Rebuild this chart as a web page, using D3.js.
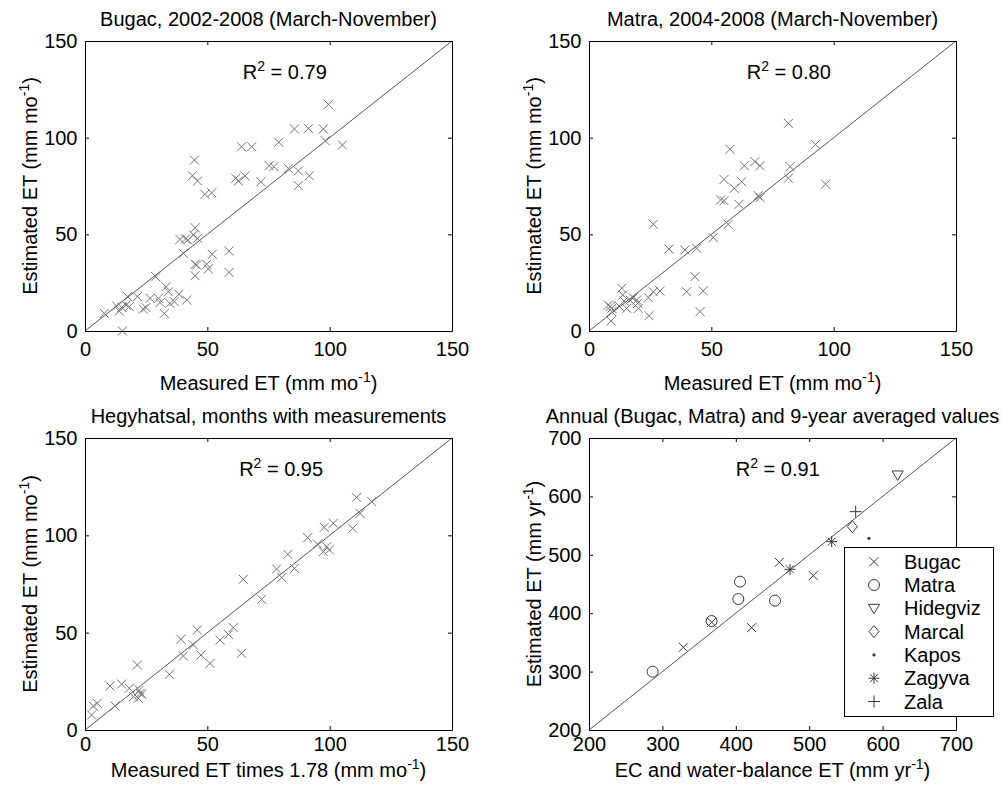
<!DOCTYPE html>
<html>
<head>
<meta charset="utf-8">
<script src="https://cdn.jsdelivr.net/npm/d3@7"></script>
<style>
  body { margin: 0; background: #fff; }
  svg { display: block; }
  text { font-family: "Liberation Sans", Arial, sans-serif; fill: #000; }
</style>
</head>
<body>
<div id="chart"></div>
<script>
// ticks
var monthTicks = [0, 50, 100, 150];
var annualTicks = [200, 300, 400, 500, 600, 700];

// Bugac monthly values [measured, estimated]
var bugacMonthly = [
  [99.5,117.2],[85.6,104.5],[91.3,104.8],[97.4,104.5],[98.2,98.4],[105.2,96.2],
  [79.2,97.6],[64.0,95.3],[68.1,95.3],[44.7,88.4],[43.9,80.3],[46.0,77.6],
  [49.0,70.7],[51.8,71.5],[61.6,79.0],[62.7,77.6],[65.4,80.2],[71.9,77.2],
  [75.3,85.5],[77.2,85.0],[83.1,84.1],[87.2,82.8],[87.2,75.2],[91.7,80.3],
  [45.0,53.4],[44.3,49.7],[46.0,47.9],[38.8,47.4],[42.0,47.1],[41.1,47.6],
  [40.2,40.2],[58.9,41.4],[52.0,39.7],[45.0,34.5],[45.6,34.1],[49.7,34.5],
  [50.4,32.1],[58.9,30.3],[45.0,28.6],[28.9,28.1],[33.1,22.9],[34.1,20.3],
  [21.4,17.8],[17.4,17.8],[38.4,19.0],[26.6,16.9],[30.0,16.9],[41.6,16.0],
  [36.5,15.2],[30.7,14.7],[24.9,12.1],[23.8,11.4],[34.7,14.3],[12.9,12.9],
  [15.0,12.2],[18.1,12.6],[16.8,13.4],[14.0,10.3],[7.9,9.1],[32.4,9.1],[15.3,0]
];

// Matra monthly values
var matraMonthly = [
  [81.5,107.4],[92.6,96.5],[96.7,75.9],[57.6,94.0],[67.8,87.6],[69.9,85.5],
  [63.5,85.5],[82.2,85.0],[81.5,79.0],[55.2,78.4],[62.4,77.2],[59.4,73.8],
  [69.2,70.0],[69.9,69.0],[61.3,65.5],[53.8,67.8],[55.2,67.4],[56.9,55.2],
  [50.8,48.3],[26.3,55.2],[32.7,42.4],[39.2,41.9],[44.0,42.8],[43.3,28.1],
  [39.9,20.3],[46.7,20.7],[45.4,10.0],[13.4,22.1],[13.8,18.6],[29.0,20.7],
  [26.3,20.3],[24.3,17.2],[18.1,17.2],[19.5,16.0],[16.8,16.0],[19.9,14.3],
  [20.2,11.7],[15.4,11.7],[12.3,12.9],[8.6,12.6],[7.9,13.4],[9.0,5.2],
  [24.5,7.9],[9.3,10.0],[9.3,11.7],[14.3,15.5]
];

// Hegyhatsal monthly values
var hegyMonthly = [
  [111.0,119.5],[117.2,117.3],[112.4,111.3],[109.4,103.6],[101.5,106.2],[97.8,104.1],
  [91.0,98.8],[95.0,95.5],[98.8,94.2],[97.4,91.6],[99.9,92.5],[82.9,90.2],
  [78.3,82.7],[85.6,83.0],[80.4,78.3],[64.7,77.4],[72.2,67.1],[45.9,51.4],
  [60.6,52.6],[58.6,49.1],[55.2,46.2],[39.2,46.6],[44.3,43.7],[40.2,38.0],
  [47.4,38.5],[51.1,34.2],[64.0,39.4],[34.5,28.6],[21.4,33.4],[10.2,22.6],
  [15.0,23.6],[18.1,21.4],[19.8,17.1],[22.2,20.5],[23.2,18.5],[21.8,16.3],
  [22.5,18.8],[12.3,12.3],[5.0,13.7],[3.4,12.3],[2.7,7.7]
];

// annual / 9-year averaged values per site
var annualBugac = [[328.5,341.6],[367.1,384.4],[421.6,375.2],[459.3,487.1],[505.6,464.3]];
var annualMatra = [[286.7,299.9],[367.1,386.6],[405.7,454.0],[403.4,424.3],[453.4,421.5]];
var annualHidegviz = [[620.5,636.7]];
var annualMarcal = [[558.8,548.2]];
var annualKapos = [[581.5,528.2]];
var annualZagyva = [[530.6,522.5],[473.8,475.1]];
var annualZala = [[563.3,573.9]];

var siteNames = ["Bugac", "Matra", "Hidegviz", "Marcal", "Kapos", "Zagyva", "Zala"];
var siteMarkers = ["x", "o", "v", "d", ".", "*", "+"];
var siteData = [annualBugac, annualMatra, annualHidegviz, annualMarcal, annualKapos, annualZagyva, annualZala];

var svg = d3.select("#chart").append("svg")
    .attr("width", 1001)
    .attr("height", 794);

// marker shapes
function markerPath(m) {
  if (m == "x") return "M-4.5,-4.5L4.5,4.5M-4.5,4.5L4.5,-4.5";
  if (m == "v") return "M-5.5,-4L5.5,-4L0,5.5Z";
  if (m == "d") return "M0,-6L5,0L0,6L-5,0Z";
  if (m == "*") return "M-5.5,0L5.5,0M0,-5.5L0,5.5M-4,-4L4,4M-4,4L4,-4";
  if (m == "+") return "M-6,0L6,0M0,-6L0,6";
  return null;
}

function drawMarker(g, m, px, py, color) {
  if (m == "o") {
    g.append("circle").attr("cx", px).attr("cy", py).attr("r", 5.5)
      .attr("fill", "none").attr("stroke", color);
  } else if (m == ".") {
    g.append("circle").attr("cx", px).attr("cy", py).attr("r", 1.6).attr("fill", color);
  } else {
    g.append("path").attr("transform", "translate(" + px + "," + py + ")")
      .attr("d", markerPath(m)).attr("fill", "none").attr("stroke", color);
  }
}

// text with a superscript part
function supText(sel, a, sup, b) {
  sel.append("tspan").text(a);
  sel.append("tspan").attr("font-size", "0.7em").attr("dy", "-0.55em").text(sup);
  sel.append("tspan").attr("dy", "0.385em").text(b);
}

function drawPanel(p) {
  var x = d3.scaleLinear().domain(p.domain).range([p.left, p.left + p.width]);
  var y = d3.scaleLinear().domain(p.domain).range([p.top + p.height, p.top]);
  var g = svg.append("g");

  // 1:1 line
  g.append("line")
    .attr("x1", x(p.domain[0])).attr("y1", y(p.domain[0]))
    .attr("x2", x(p.domain[1])).attr("y2", y(p.domain[1]))
    .attr("stroke", "#555").attr("stroke-width", 1);

  // points
  p.series.forEach(function(s) {
    s.data.forEach(function(d) {
      drawMarker(g, s.marker, x(d[0]), y(d[1]), s.color);
    });
  });

  // axes (box with inward ticks)
  var bottom = g.append("g")
    .attr("transform", "translate(0," + (p.top + p.height) + ")")
    .call(d3.axisBottom(x).tickValues(p.ticks).tickSizeInner(-4).tickSizeOuter(0).tickPadding(p.xPad));
  var left = g.append("g")
    .attr("transform", "translate(" + p.left + ",0)")
    .call(d3.axisLeft(y).tickValues(p.ticks).tickSizeInner(-4).tickSizeOuter(0).tickPadding(7.5));
  g.append("g")
    .attr("transform", "translate(0," + p.top + ")")
    .call(d3.axisTop(x).tickValues(p.ticks).tickSizeInner(-4).tickSizeOuter(0).tickFormat(""));
  g.append("g")
    .attr("transform", "translate(" + (p.left + p.width) + ",0)")
    .call(d3.axisRight(y).tickValues(p.ticks).tickSizeInner(-4).tickSizeOuter(0).tickFormat(""));

  [bottom, left].forEach(function(a) {
    a.attr("font-size", 20).attr("font-family", '"Liberation Sans", Arial, sans-serif');
  });

  // title
  g.append("text")
    .attr("x", p.left + p.width / 2).attr("y", p.top - 15.5)
    .attr("text-anchor", "middle").attr("font-size", 20)
    .text(p.title);

  // x label
  supText(g.append("text")
    .attr("x", p.left + p.width / 2).attr("y", p.top + p.height + p.xLab)
    .attr("text-anchor", "middle").attr("font-size", 20), p.xlabel[0], "-1", ")");

  // y label
  supText(g.append("text")
    .attr("transform", "translate(" + (p.left - 48) + "," + (p.top + p.height / 2) + ") rotate(-90)")
    .attr("text-anchor", "middle").attr("font-size", 20), p.ylabel[0], "-1", ")");

  // R2
  supText(g.append("text")
    .attr("x", p.left + p.rx * p.width).attr("y", p.top + 38)
    .attr("font-size", 20), "R", "2", " = " + p.r2);

  return {x: x, y: y};
}

drawPanel({
  left: 85, top: 41, width: 367, height: 290, domain: [0, 150], ticks: monthTicks,
  xPad: 10.5, xLab: 59, rx: 0.43,
  title: "Bugac, 2002-2008 (March-November)",
  xlabel: ["Measured ET (mm mo"], ylabel: ["Estimated ET (mm mo"], r2: "0.79",
  series: [{data: bugacMonthly, marker: "x", color: "#727272"}]
});

drawPanel({
  left: 589, top: 41, width: 367, height: 290, domain: [0, 150], ticks: monthTicks,
  xPad: 10.5, xLab: 59, rx: 0.43,
  title: "Matra, 2004-2008 (March-November)",
  xlabel: ["Measured ET (mm mo"], ylabel: ["Estimated ET (mm mo"], r2: "0.80",
  series: [{data: matraMonthly, marker: "x", color: "#727272"}]
});

drawPanel({
  left: 85, top: 438, width: 367, height: 292, domain: [0, 150], ticks: monthTicks,
  xPad: 6.5, xLab: 47, rx: 0.42,
  title: "Hegyhatsal, months with measurements",
  xlabel: ["Measured ET times 1.78 (mm mo"], ylabel: ["Estimated ET (mm mo"], r2: "0.95",
  series: [{data: hegyMonthly, marker: "x", color: "#727272"}]
});

drawPanel({
  left: 589, top: 438, width: 367, height: 292, domain: [200, 700], ticks: annualTicks,
  xPad: 6.5, xLab: 47, rx: 0.40,
  title: "Annual (Bugac, Matra) and 9-year averaged values",
  xlabel: ["EC and water-balance ET (mm yr"], ylabel: ["Estimated ET (mm yr"], r2: "0.91",
  series: siteData.map(function(d, i) { return {data: d, marker: siteMarkers[i], color: "#3a3a3a"}; })
});

// legend
var legend = svg.append("g");
legend.append("rect")
  .attr("x", 844.5).attr("y", 547.5).attr("width", 149).attr("height", 169)
  .attr("fill", "#fff").attr("stroke", "#000");
siteNames.forEach(function(name, i) {
  var cy = 561.7 + i * 23.3;
  drawMarker(legend, siteMarkers[i], 874, cy, "#3a3a3a");
  legend.append("text").attr("x", 904).attr("y", cy + 7)
    .attr("font-size", 20).text(name);
});
</script>
</body>
</html>
